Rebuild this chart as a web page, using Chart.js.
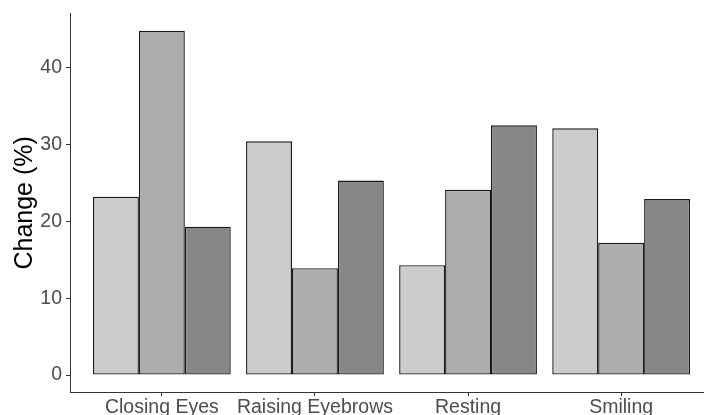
<!DOCTYPE html>
<html>
<head>
<meta charset="utf-8">
<script src="https://cdn.jsdelivr.net/npm/chart.js@4.4.1/dist/chart.umd.min.js"></script>
<style>
  html, body { margin: 0; padding: 0; background: #fff; overflow: hidden; }
  #wrap { width: 713px; height: 415px; }
</style>
</head>
<body>
<div id="wrap"><canvas id="chart" width="713" height="415"></canvas></div>
<script>
// values
const categories = ["Closing Eyes", "Raising Eyebrows", "Resting", "Smiling"];
const seriesA = [23.2, 30.4, 14.3, 32.1];
const seriesB = [44.8, 13.9, 24.1, 17.2];
const seriesC = [19.3, 25.3, 32.5, 22.9];
const yTicks = [0, 10, 20, 30, 40];
const fills = ["#cccccc", "#adadad", "#878787"];

const FONT = "'Liberation Sans', Arial, sans-serif";
const AXIS = "#333333";

function toPoints(vals) {
  return vals.map((v, i) => ({ x: i + 1, y: v }));
}

const ctx = document.getElementById("chart");

new Chart(ctx, {
  type: "bar",
  data: {
    datasets: [seriesA, seriesB, seriesC].map((s, k) => ({
      data: toPoints(s),
      backgroundColor: fills[k],
    })),
  },
  options: {
    responsive: false,
    animation: false,
    layout: { padding: { top: 12.7, left: 0, right: 0, bottom: 0 } },
    plugins: {
      legend: { display: false },
      tooltip: { enabled: false },
    },
    datasets: {
      bar: {
        categoryPercentage: 0.9,
        barPercentage: 1,
        borderWidth: 1.4,
        borderColor: "#1a1a1a",
        borderSkipped: false,
      },
    },
    scales: {
      x: {
        type: "linear",
        offset: false,
        min: 0.4,
        max: 4.6,
        afterBuildTicks: (s) => {
          s.ticks = categories.map((c, i) => ({ value: i + 1 }));
        },
        afterFit: (s) => {
          s.height = 23;
        },
        grid: { offset: false, drawOnChartArea: false, drawTicks: true, tickLength: 4, color: AXIS },
        border: { color: AXIS, width: 1 },
        ticks: {
          callback: (v) => categories[v - 1],
          font: { family: FONT, size: 19.5 },
          color: "#4d4d4d",
          padding: 0,
          maxRotation: 0,
          autoSkip: false,
        },
      },
      y: {
        min: -2.2,
        max: 47.0,
        afterBuildTicks: (s) => {
          s.ticks = yTicks.map((v) => ({ value: v }));
        },
        afterFit: (s) => {
          s.width = 70;
        },
        grid: { drawOnChartArea: false, drawTicks: true, tickLength: 4, color: AXIS },
        border: { color: AXIS, width: 1 },
        ticks: {
          font: { family: FONT, size: 19.5, lineHeight: 1 },
          color: "#4d4d4d",
          padding: 4,
        },
        title: {
          display: true,
          text: "Change (%)",
          font: { family: FONT, size: 25 },
          color: "#000000",
          padding: { top: 10, bottom: 0 },
        },
      },
    },
  },
});
</script>
</body>
</html>
